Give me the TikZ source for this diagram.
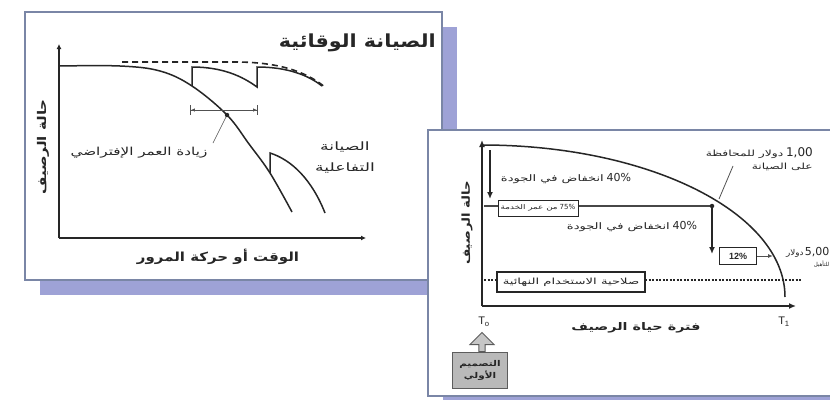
\documentclass[tikz,border=0pt]{standalone}
\usepackage{fontspec}
\usepackage{graphicx}
\setmainfont{Liberation Sans}
\newfontfamily\ar[Script=Arabic]{DejaVu Sans}
\TeXXeTstate=1
\usetikzlibrary{arrows.meta,shapes.arrows}
\newcommand{\stretchx}[2]{\scalebox{#1}[1]{#2}}
\definecolor{framec}{HTML}{7A86A6}
\definecolor{shadowc}{HTML}{9EA2D6}
\definecolor{ink}{HTML}{262626}
\tikzset{
  panelshadow/.style={fill=shadowc, draw=none},
  panelframe/.style={draw=framec, line width=1.8pt, fill=white},
  curve/.style={line width=1.5pt, draw=ink},
  axisline/.style={line width=1.6pt, draw=ink, -{Latex[length=7pt,width=6pt]}},
  lbl/.style={text=ink, inner sep=1pt, font={\ar\fontsize{9}{11}\selectfont}},
  boldlbl/.style={text=ink, inner sep=1pt, font={\ar\bfseries\fontsize{11}{13}\selectfont}},
  titlelbl/.style={text=ink, inner sep=1pt, font={\ar\bfseries\fontsize{18}{20}\selectfont}},
  smallbox/.style={draw=ink, line width=1pt, fill=white, inner sep=1pt, text=ink, font={\ar\fontsize{6.5}{7}\selectfont}},
  thickbox/.style={draw=ink, line width=1.8pt, fill=white, inner sep=1pt, text=ink, font={\ar\fontsize{8.5}{9}\selectfont}},
  graybox/.style={draw=ink!75, line width=0.9pt, fill=gray!55, inner sep=1pt, text=ink, align=center, font={\ar\bfseries\fontsize{8}{12}\selectfont}},
  downarrow/.style={line width=1.6pt, draw=ink, -{Latex[length=7pt,width=6pt]}},
  thinline/.style={line width=0.6pt, draw=ink!80},
  dotmark/.style={circle, fill=ink, inner sep=0pt, minimum size=4.5pt}
}
\begin{document}
\begin{tikzpicture}[x=1pt,y=-1pt]
\useasboundingbox (0,0) rectangle (830,399);
\fill[white] (0,0) rectangle (830,399);

% ---------- panel 1 ----------
\fill[panelshadow] (40,27) rectangle (457,295);
\draw[panelframe] (25,12) rectangle (442,280);

\coordinate (o1) at (59,238);
\coordinate (y1) at (59,44);
\coordinate (x1) at (366,238);
\draw[axisline,-{Latex[length=5pt,width=5pt]}] (o1) -- (y1);
\draw[axisline,-{Latex[length=5pt,width=5pt]}] (o1) -- (x1);

\node[titlelbl, anchor=east] (t1) at (437,43) {\stretchx{1.15}{\beginR الصيانة الوقائية\endR}};

% main deterioration curve
\draw[curve] plot[smooth, tension=0.6] coordinates {(59,66) (120,66) (160,71) (192,86) (227,115) (249,144) (270,173) (292,212)};
% dashed envelope
\draw[curve, line width=1.6pt, dash pattern=on 6pt off 4pt] (122,62) -- (235,62) .. controls (275,62) and (305,70) .. (326,88);
% preventive maintenance steps
\draw[curve] (192,86) -- (192,67) .. controls (222,67) and (242,76) .. (257,87) -- (257,67) .. controls (287,67) and (308,75) .. (322,86);
% interval marker
\coordinate (iL) at (190,110);
\coordinate (iR) at (258,110);
\draw[thinline, line width=0.9pt, {Bar[width=10pt]Latex[length=4pt,width=3.5pt]}-{Latex[length=4pt,width=3.5pt]Bar[width=10pt]}] (iL) -- (iR);
\node[dotmark] (d1) at (227,115) {};
% reactive maintenance
\draw[curve] (270,173) -- (270,153) .. controls (292,160) and (312,180) .. (325,213);

\node[lbl, font={\ar\fontsize{11}{13}\selectfont}] (ext) at (139,153) {\stretchx{1.38}{\beginR زيادة العمر الإفتراضي\endR}};
\draw[thinline] (d1) -- (213,143);
\node[lbl, align=center, font={\ar\fontsize{11.5}{21}\selectfont}] (react) at (345,157) {\stretchx{1.5}{\beginR الصيانة\endR}\\\stretchx{1.5}{\beginR التفاعلية\endR}};
\node[boldlbl, rotate=90, font={\ar\bfseries\fontsize{12}{14}\selectfont}] (ya1) at (43,147) {\stretchx{1.25}{\beginR حالة الرصيف\endR}};
\node[boldlbl, font={\ar\bfseries\fontsize{12.5}{14}\selectfont}] (xa1) at (218,257) {\stretchx{1.2}{\beginR الوقت أو حركة المرور\endR}};

% ---------- panel 2 ----------
\fill[panelshadow] (443,145) rectangle (850,412);
\draw[panelframe] (428,130) rectangle (845,396);

\coordinate (o2) at (482,306);
\coordinate (y2) at (482,140);
\coordinate (x2) at (796,306);
\draw[axisline] (o2) -- (y2);
\draw[axisline] (o2) -- (x2);

% condition curve (quarter ellipse)
\draw[curve] (482,145) arc[start angle=-90, end angle=0, x radius=303, y radius=152];

% first drop
\coordinate (a1s) at (490,150);
\coordinate (a1e) at (490,199);
\draw[downarrow] (a1s) -- (a1e);
\node[lbl] (drop1) at (566,179) {\stretchx{1.45}{\beginR انخفاض في الجودة\endR}\ {\fontsize{11}{12}\selectfont 40\%}};

% 75% line
\coordinate (h1s) at (484,206);
\coordinate (h1e) at (712,206);
\node[smallbox, minimum width=80pt, minimum height=16pt] (b75) at (538,208) {\stretchx{1.35}{\beginR من عمر الخدمة\endR}\ {\fontsize{7}{8}\selectfont 75\%}};
\draw[line width=1.6pt, draw=ink!85] (h1s) -- (b75.west |- h1s);
\draw[line width=1.6pt, draw=ink!85] (b75.east |- h1e) -- (h1e);
\node[dotmark] (d2) at (h1e) {};
\coordinate (a2e) at (712,254);
\draw[downarrow] (d2.center) -- (a2e);
\node[lbl] (drop2) at (632,227) {\stretchx{1.45}{\beginR انخفاض في الجودة\endR}\ {\fontsize{11}{12}\selectfont 40\%}};

% 12% box
\node[smallbox, minimum width=37pt, minimum height=17pt, font={\fontsize{9}{10}\selectfont\bfseries}] (b12) at (738,256) {12\%};
\coordinate (c12) at (773,256);
\draw[thinline, line width=1pt, -{Latex[length=5pt,width=4pt]}] (b12.east) -- (c12);
\node[lbl, anchor=east, inner sep=0.5pt, font={\ar\fontsize{8}{10}\selectfont}] (cost5) at (830,252) {\stretchx{1.1}{\beginR دولار\endR}\,{\fontsize{11}{12}\selectfont 5,00}};
\node[lbl, anchor=east, inner sep=0.5pt, font={\ar\fontsize{5.5}{7}\selectfont}] (cost5b) at (830,264) {\beginR للتأهيل\endR};

% 1,00 label
\node[lbl, align=right, anchor=east, font={\ar\fontsize{8.5}{13}\selectfont}] (cost1) at (814,159) {\stretchx{1.45}{\beginR دولار للمحافظة\endR}\ {\fontsize{12}{13}\selectfont 1,00}\\\stretchx{1.45}{\beginR على الصيانة\endR}};
\coordinate (p1) at (719,199);
\draw[thinline, line width=0.8pt] (733,166) -- (p1);

% end-of-life line
\coordinate (e1) at (484,280);
\coordinate (e2) at (802,280);
\draw[ink, line width=1.3pt, dash pattern=on 2pt off 1.5pt] (e1) -- (e2);
\node[thickbox, minimum width=148pt, minimum height=20pt] (bend) at (571,282) {\stretchx{1.55}{\beginR صلاحية الاستخدام النهائية\endR}};

% T labels
\node[text=ink, font={\fontsize{11}{12}\selectfont}] (t0) at (484,322) {T\textsubscript{o}};
\node[text=ink, font={\fontsize{11}{12}\selectfont}] (tt1) at (784,322) {T\textsubscript{1}};
\node[boldlbl, font={\ar\bfseries\fontsize{10.5}{12}\selectfont}] (xa2) at (636,328) {\stretchx{1.37}{\beginR فترة حياة الرصيف\endR}};
\node[boldlbl, rotate=90] (ya2) at (467,223) {\stretchx{1.2}{\beginR حالة الرصيف\endR}};

% initial design
\node[graybox, minimum width=55pt, minimum height=36pt] (design) at (480,370) {\stretchx{1.3}{\beginR التصميم\endR}\\\stretchx{1.3}{\beginR الأولي\endR}};
\node[single arrow, draw=ink!75, fill=gray!45, rotate=90, minimum height=19pt, minimum width=24pt, single arrow head extend=4pt, single arrow head indent=0pt, inner sep=1pt, anchor=west, line width=0.9pt] (up) at (482,352) {};
\end{tikzpicture}
\end{document}
